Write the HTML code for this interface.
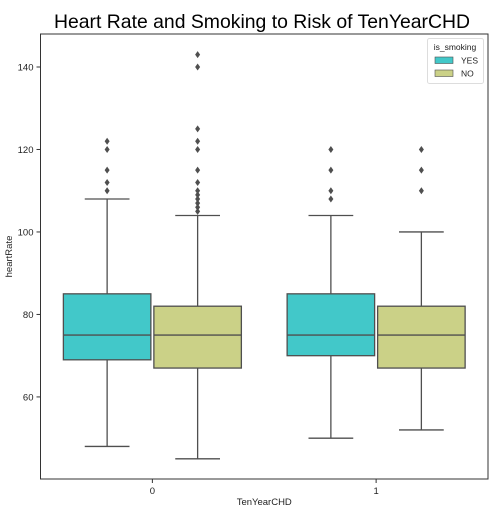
<!DOCTYPE html>
<html><head><meta charset="utf-8"><style>
body{margin:0;background:#fff;}
svg{display:block;font-family:"Liberation Sans","DejaVu Sans",sans-serif;}
</style></head><body>
<svg id="chart" width="501" height="513"></svg>
<script>
const categories = ["0","1"];
const groups = ["YES","NO"];
const colors = ["#42c8c9","#cbd187"];
// [whiskerLow, q1, median, q3, whiskerHigh]
const statsYes = [[48,69,75,85,108],[50,70,75,85,104]];
const statsNo = [[45,67,75,82,104],[52,67,75,82,100]];
const outliersYes = [[110,112,115,120,122],[108,110,115,120]];
const outliersNo = [[105,106,107,108,109,110,112,115,120,122,125,140,143],[110,115,120]];
const yTicks = [60,80,100,120,140];

const NS="http://www.w3.org/2000/svg";
const svg=document.getElementById('chart');
const L=40.5,R=488,T=34,B=479;
const yMin=40.1,yMax=148;
function y(v){return B-(v-yMin)/(yMax-yMin)*(B-T);}
function x(i){return L+(i+0.5)*(R-L)/categories.length;}
const band=(R-L)/categories.length;
const boxW=band*0.8/groups.length;
function mk(tag,attrs,name,text){
  const e=document.createElementNS(NS,tag);
  for(const k in attrs)e.setAttribute(k,attrs[k]);
  
  
  if(text!==undefined)e.textContent=text;
  svg.appendChild(e);return e;
}
const lc="#4f4f4f";
mk('rect',{x:L,y:T,width:R-L,height:B-T,fill:'none',stroke:'#333','stroke-width':1},'plot-frame');
mk('text',{x:262,y:28,'text-anchor':'middle','font-size':19.4,fill:'#000'},'chart-title','Heart Rate and Smoking to Risk of TenYearCHD');
yTicks.forEach(t=>{
  mk('line',{x1:L-4,x2:L,y1:y(t),y2:y(t),stroke:'#333'},'y-tick');
  mk('text',{x:L-7,y:y(t)+3.5,'text-anchor':'end','font-size':9.5,fill:'#222'},'y-tick-label',t);
});
categories.forEach((c,i)=>{
  mk('line',{x1:x(i),x2:x(i),y1:B,y2:B+4,stroke:'#333'},'x-tick');
  mk('text',{x:x(i),y:B+15,'text-anchor':'middle','font-size':9.5,fill:'#222'},'x-tick-label',c);
});
mk('text',{x:(L+R)/2,y:505,'text-anchor':'middle','font-size':9.5,fill:'#222'},'x-axis-title','TenYearCHD');
mk('text',{x:12,y:(T+B)/2,'text-anchor':'middle','font-size':9.5,fill:'#222',transform:`rotate(-90 12 ${(T+B)/2})`},'y-axis-title','heartRate');
const allStats=[statsYes,statsNo],allOut=[outliersYes,outliersNo];
categories.forEach((c,i)=>{
  groups.forEach((g,gi)=>{
    const s=allStats[gi][i];
    const cx=x(i)+(gi-0.5)*boxW+ (gi===0?-0.5:0.5);
    const x0=cx-boxW/2+1, w=boxW-2;
    mk('line',{x1:cx,x2:cx,y1:y(s[0]),y2:y(s[1]),stroke:lc,'stroke-width':1.3},'whisker-low-'+g.toLowerCase()+'-'+c);
    mk('line',{x1:cx,x2:cx,y1:y(s[3]),y2:y(s[4]),stroke:lc,'stroke-width':1.3},'whisker-high-'+g.toLowerCase()+'-'+c);
    mk('line',{x1:cx-boxW/4,x2:cx+boxW/4,y1:y(s[0]),y2:y(s[0]),stroke:lc,'stroke-width':1.3},'cap-low');
    mk('line',{x1:cx-boxW/4,x2:cx+boxW/4,y1:y(s[4]),y2:y(s[4]),stroke:lc,'stroke-width':1.3},'cap-high');
    mk('rect',{x:x0,y:y(s[3]),width:w,height:y(s[1])-y(s[3]),fill:colors[gi],stroke:lc,'stroke-width':1.3},'box-'+g.toLowerCase()+'-'+c);
    mk('line',{x1:x0,x2:x0+w,y1:y(s[2]),y2:y(s[2]),stroke:lc,'stroke-width':1.3},'median-'+g.toLowerCase()+'-'+c);
    allOut[gi][i].forEach(v=>{
      mk('path',{d:`M${cx} ${y(v)-3.5}L${cx+2.5} ${y(v)}L${cx} ${y(v)+3.5}L${cx-2.5} ${y(v)}Z`,fill:lc},'outlier-point');
    });
  });
});
mk('rect',{x:427.5,y:38.5,width:56,height:45,fill:'#fff',stroke:'#ddd',rx:2},'legend-box');
mk('text',{x:455,y:50,'text-anchor':'middle','font-size':8.5,fill:'#222'},'legend-title','is_smoking');
groups.forEach((g,gi)=>{
  mk('rect',{x:435,y:57+gi*13,width:18,height:6.5,fill:colors[gi],stroke:lc,'stroke-width':0.6},'legend-swatch-'+g.toLowerCase());
  mk('text',{x:461,y:63.5+gi*13,'font-size':8.5,fill:'#222'},'legend-entry-'+g.toLowerCase(),g);
});
</script>
</body></html>
